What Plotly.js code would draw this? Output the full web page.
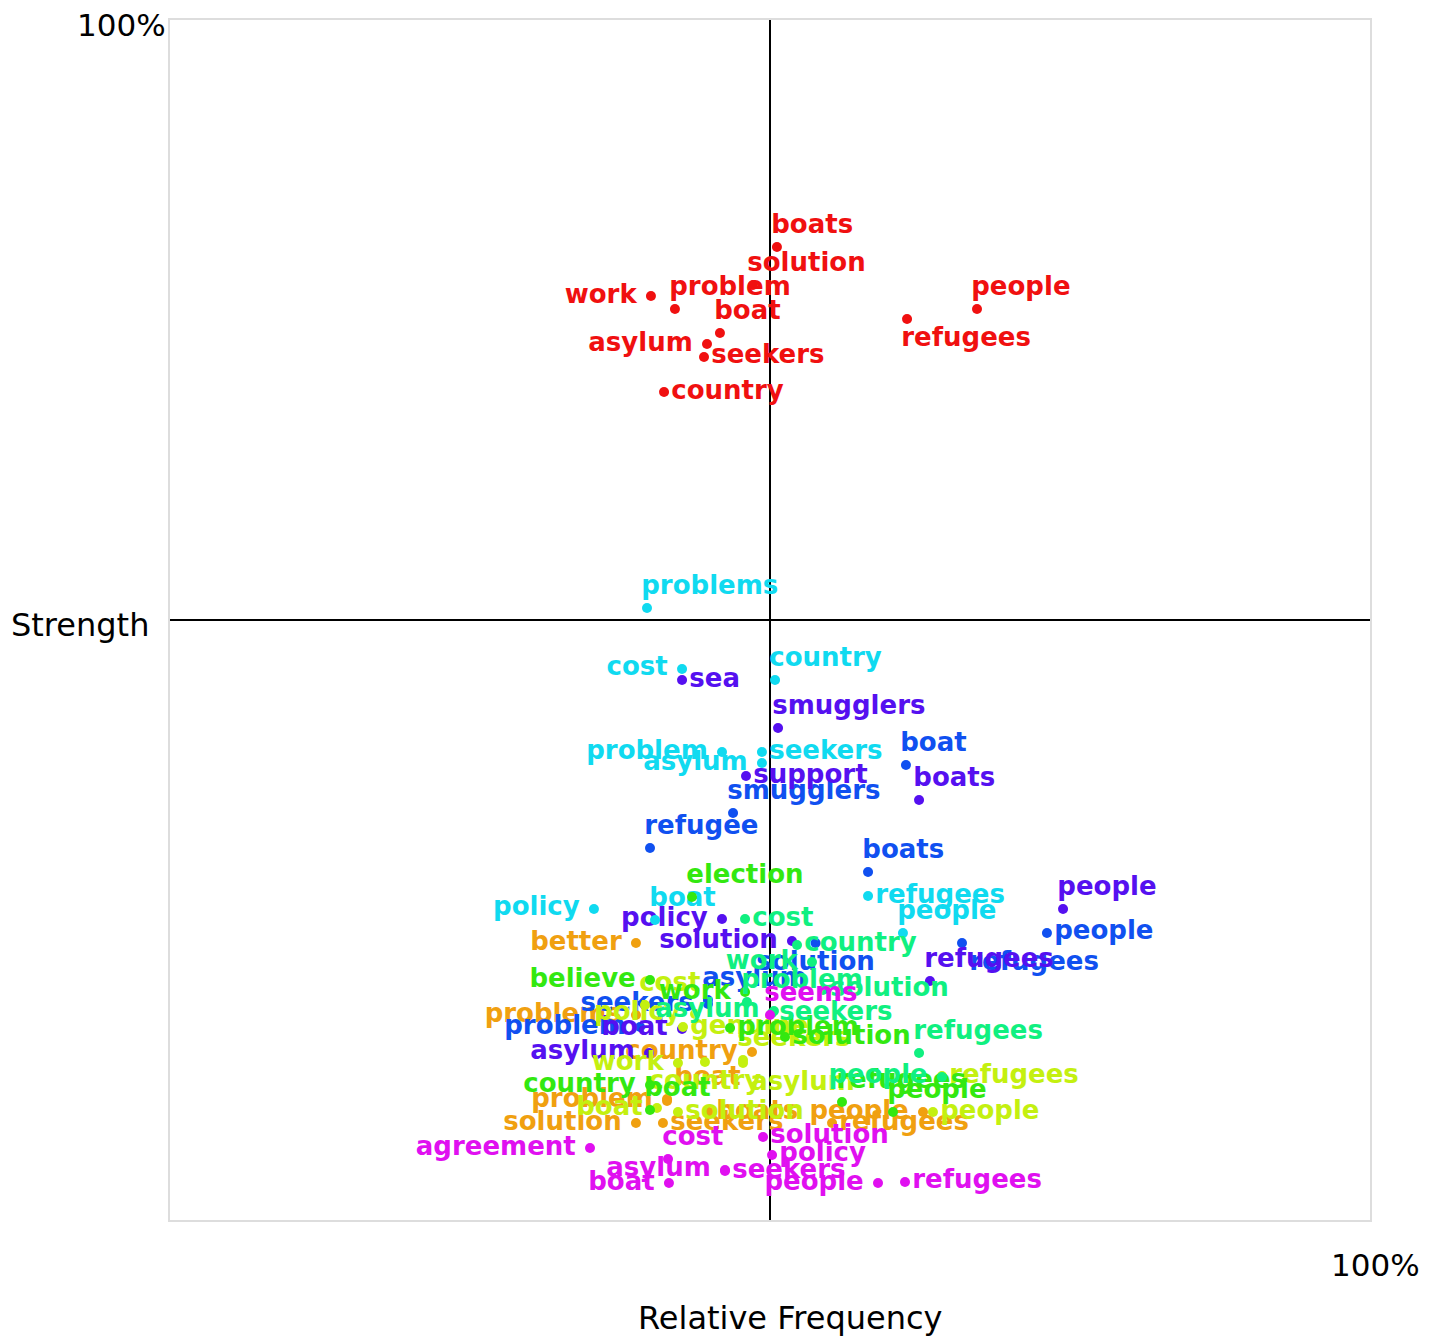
<!DOCTYPE html>
<html>
<head>
<meta charset="utf-8">
<script src="https://cdn.plot.ly/plotly-3.0.1.min.js"></script>
<style>html,body{margin:0;padding:0;background:#fff;}#chart{width:1438px;height:1337px;}</style>
</head>
<body>
<div id="chart"></div>
<script>
// ---- data: relative frequency (x, %) and strength (y, %) per word, per group ----
const redWords = ["boats","solution","problem","work","boat","asylum","seekers","country","people","refugees"];
const redFreq = [50.58,48.58,42.08,40.08,45.83,44.75,44.5,41.17,67.25,61.42];
const redStrength = [81.08,77.92,75.92,77.0,73.92,73.0,71.92,69.0,75.92,75.08];

const cyanWords = ["problems","cost","country","problem","seekers","asylum","refugees","people","policy","boat"];
const cyanFreq = [39.75,42.67,50.42,46.0,49.33,49.33,58.17,61.08,35.33,40.42];
const cyanStrength = [51.0,45.92,45.0,39.0,39.0,38.08,27.0,23.92,25.92,25.0];

const purpleWords = ["sea","smugglers","support","boats","people","refugees","policy","solution","asylum","boat"];
const purpleFreq = [42.67,50.67,48.0,62.42,74.42,63.33,46.0,51.83,39.92,42.67];
const purpleStrength = [45.0,41.0,37.0,35.0,25.92,19.92,25.08,23.25,13.92,15.92];

const blueWords = ["boat","smugglers","refugee","boats","people","refugees","solution","asylum","seekers","problem"];
const blueFreq = [61.33,46.92,40.0,58.17,73.08,66.0,53.8,44.83,44.83,39.17];
const blueStrength = [37.92,33.92,31.0,29.0,23.92,23.08,23.08,18.33,18.0,16.08];

const greenWords = ["election","believe","work","problem","solution","country","boat","people","refugees"];
const greenFreq = [43.5,40.0,47.92,46.67,51.25,40.0,40.0,60.25,56.0];
const greenStrength = [26.92,20.0,19.0,16.0,15.25,11.25,9.17,9.0,9.83];

const springWords = ["cost","country","work","problem","solution","asylum","seekers","refugees","people"];
const springFreq = [47.92,52.25,53.5,48.08,54.42,50.33,50.17,62.42,64.33];
const springStrength = [25.08,22.92,21.5,18.17,19.17,17.42,17.25,13.92,11.92];

const limeWords = ["cost","policy","genuine","seekers","asylum","work","country","boat","solution","people","refugees"];
const limeFreq = [39.58,43.75,42.75,47.75,47.75,42.33,44.58,40.58,42.33,63.58,64.33];
const limeStrength = [17.92,17.17,16.08,13.33,13.08,13.08,13.17,9.33,9.0,9.0,12.0];

const orangeWords = ["better","problems","country","problem","boat","solution","seekers","boats","people","refugees"];
const orangeFreq = [38.83,38.83,48.5,41.42,41.42,38.83,41.08,44.92,62.75,55.17];
const orangeStrength = [23.08,17.08,14.0,9.92,10.08,8.08,8.08,9.0,9.0,8.08];

const magentaWords = ["seems","agreement","cost","asylum","seekers","boat","solution","policy","people","refugees"];
const magentaFreq = [50.0,35.0,41.5,46.25,46.25,41.58,49.42,50.17,59.0,61.25];
const magentaStrength = [17.08,6.0,5.08,4.17,4.08,3.08,6.92,5.42,3.08,3.17];

// ---- label placement codes (style) ----
const redPos = ["tr","tr","tr","ml","tr","ml","mr","mr","tr","br"];
const cyanPos = ["tr","ml","tr","ml","mr","ml","mr","tr","ml","tr"];
const purplePos = ["mr","tr","mr","tr","tr","tr","ml","ml","ml","ml"];
const bluePos = ["tr","tr","tr","tr","mr","br0","bc","tr","ml","ml"];
const greenPos = ["tr","ml","ml","mr","mr","ml","tr","tr","tr"];
const springPos = ["mr","mr","ml","tr","mr","ml","mr","tr","ml"];
const limePos = ["tr","ml","mr","tr","br0","ml","bc","ml","mr","mr","mr"];
const orangePos = ["ml","ml","ml","ml","tr0","ml","mr","mr","ml","mr"];
const magentaPos = ["tr","ml","tr","ml","mr","ml","mr","mr","ml","mr"];

// code -> [plotly textposition, horizontal pixel nudge]
const POS = {
  tr: ["top right", -13], tr0: ["top right", 0], br: ["bottom right", -13], br0: ["bottom right", 0],
  mr: ["middle right", 0], ml: ["middle left", -7], bc: ["bottom center", 0]
};
const PX_PER_UNIT = 12; // 1200 px plot width over 100 units

const groups = [
  {w: orangeWords, x: orangeFreq, y: orangeStrength, p: orangePos, c: "#f0a010"},
  {w: blueWords, x: blueFreq, y: blueStrength, p: bluePos, c: "#1050f0"},
  {w: purpleWords, x: purpleFreq, y: purpleStrength, p: purplePos, c: "#5510f0"},
  {w: cyanWords, x: cyanFreq, y: cyanStrength, p: cyanPos, c: "#10daf0"},
  {w: limeWords, x: limeFreq, y: limeStrength, p: limePos, c: "#c4f010"},
  {w: greenWords, x: greenFreq, y: greenStrength, p: greenPos, c: "#33e810"},
  {w: springWords, x: springFreq, y: springStrength, p: springPos, c: "#10f080"},
  {w: magentaWords, x: magentaFreq, y: magentaStrength, p: magentaPos, c: "#e010f0"},
  {w: redWords, x: redFreq, y: redStrength, p: redPos, c: "#f01010"}
];

const traces = [];
groups.forEach(g => {
  traces.push({
    type: "scatter", mode: "markers", x: g.x, y: g.y, text: g.w,
    marker: {size: 10, color: g.c}, hoverinfo: "text", cliponaxis: false, showlegend: false
  });
  traces.push({
    type: "scatter", mode: "markers+text",
    x: g.x.map((v, i) => v + POS[g.p[i]][1] / PX_PER_UNIT), y: g.y, text: g.w,
    textposition: g.p.map(k => POS[k][0]),
    marker: {size: 10, color: g.c, opacity: 0},
    textfont: {family: "DejaVu Sans", size: 26, color: g.c, weight: "bold"},
    hoverinfo: "skip", cliponaxis: false, showlegend: false
  });
});

const axisFont = {family: "DejaVu Sans", size: 32, color: "#000"};
const layout = {
  width: 1438, height: 1337,
  margin: {l: 170, r: 68, t: 20, b: 117},
  paper_bgcolor: "#fff", plot_bgcolor: "#fff",
  xaxis: {range: [0, 100], showgrid: false, zeroline: false, showticklabels: false, ticks: "",
          showline: true, mirror: true, linecolor: "#dddddd", linewidth: 2, fixedrange: true},
  yaxis: {range: [0, 100], showgrid: false, zeroline: false, showticklabels: false, ticks: "",
          showline: true, mirror: true, linecolor: "#dddddd", linewidth: 2, fixedrange: true},
  shapes: [
    {type: "line", xref: "x", yref: "y", x0: 50, x1: 50, y0: 0, y1: 100, line: {color: "#000", width: 2}, layer: "below"},
    {type: "line", xref: "x", yref: "y", x0: 0, x1: 100, y0: 50, y1: 50, line: {color: "#000", width: 2}, layer: "below"}
  ],
  annotations: [
    {xref: "paper", yref: "paper", x: -0.002, y: 0.996, xanchor: "right", yanchor: "middle", text: "100%", showarrow: false, font: {family: "DejaVu Sans", size: 31, color: "#000"}},
    {xref: "paper", yref: "paper", x: -0.016, y: 0.496, xanchor: "right", yanchor: "middle", text: "Strength", showarrow: false, font: axisFont},
    {xref: "paper", yref: "paper", x: 1.005, y: -0.0375, xanchor: "center", yanchor: "middle", text: "100%", showarrow: false, font: {family: "DejaVu Sans", size: 31, color: "#000"}},
    {xref: "paper", yref: "paper", x: 0.5167, y: -0.0817, xanchor: "center", yanchor: "middle", text: "Relative Frequency", showarrow: false, font: axisFont}
  ]
};

Plotly.newPlot("chart", traces, layout, {displayModeBar: false, staticPlot: true});
</script>
</body>
</html>
